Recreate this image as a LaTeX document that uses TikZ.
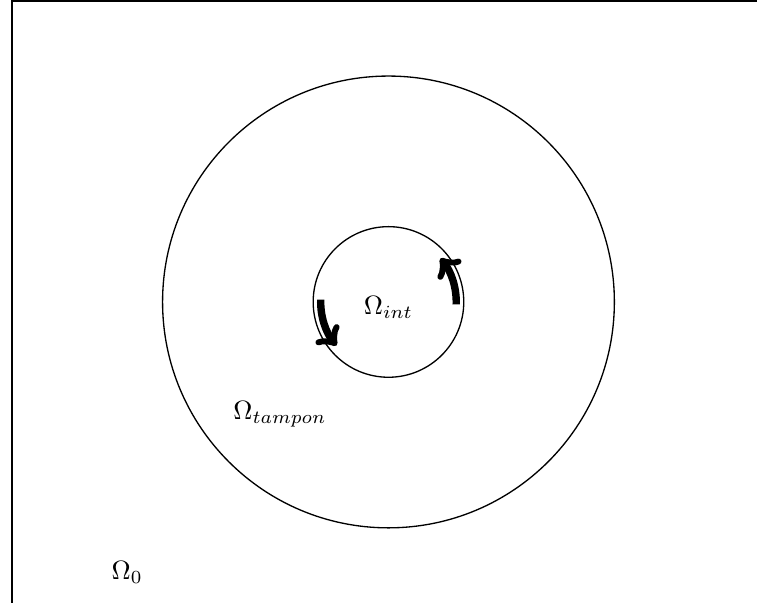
\documentclass[tikz,border=0pt]{standalone}
\begin{document}
\begin{tikzpicture}
\tikzset{region/.style={draw, line width=0.5pt}, flow/.style={line width=2.8pt, ->}}
\useasboundingbox (-5.159,-3.997) rectangle (4.894,4.01);
\begin{scope}
\clip (-5.159,-3.997) rectangle (4.894,4.01);
\draw[line width=0.6pt] (-5,-4.2) -- (-5,4) -- (5.2,4);
\end{scope}
\node[region, circle, minimum size=6cm, inner sep=0pt] (outer) at (0,0) {};
\node[region, circle, minimum size=2cm, inner sep=0pt] (inner) at (0,0) {};
\node (oint) at (0,-0.07) {$\Omega_{int}$};
\node (otampon) at (-1.44,-1.49) {$\Omega_{tampon}$};
\node (ozero) at (-3.47,-3.59) {$\Omega_0$};
\draw[flow] (inner.center) ++(-2:0.9) arc[start angle=-2, end angle=40, radius=0.9];
\draw[flow] (inner.center) ++(178:0.9) arc[start angle=178, end angle=220, radius=0.9];
\end{tikzpicture}
\end{document}
